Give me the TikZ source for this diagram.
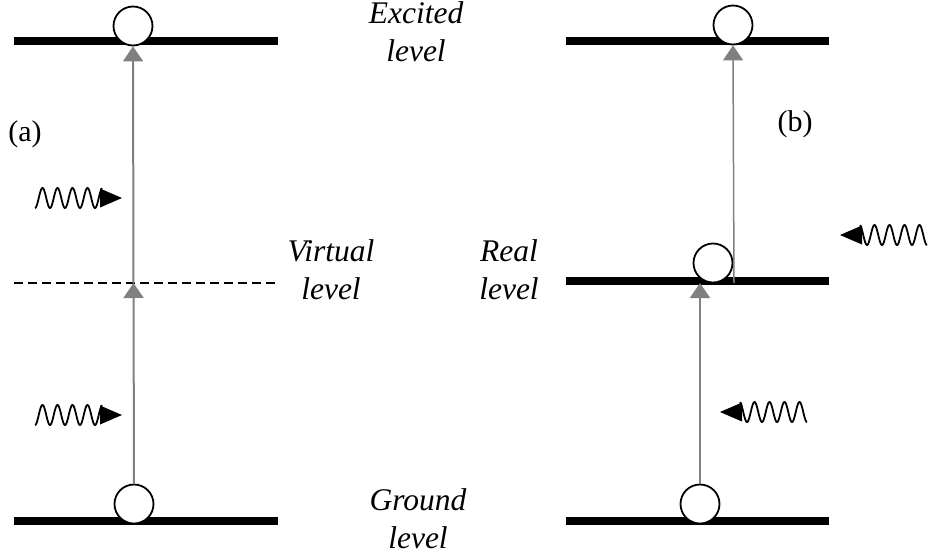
\documentclass[tikz,border=0pt]{standalone}
\usepackage{fontspec}
\setmainfont{Liberation Serif}
\usetikzlibrary{arrows.meta}
\definecolor{arrowgray}{RGB}{128,128,128}
\tikzset{
  levelline/.style={line width=7.5pt, black},
  virtline/.style={line width=1.6pt, black, dash pattern=on 9pt off 5pt},
  electron/.style={circle, draw=black, fill=white, line width=1.8pt, minimum size=39pt, inner sep=0pt},
  transition/.style={draw=arrowgray, line width=2pt, -{Triangle[length=15pt,width=20pt]}},
  levellabel/.style={font=\fontsize{31.5}{38}\selectfont\itshape, align=center, inner sep=0pt},
  panellabel/.style={font=\fontsize{30}{36}\selectfont, inner sep=0pt},
  photonright/.pic={
    \draw[line width=1.8pt, black] plot[domain=0:67, samples=120, smooth] (\x,{10*cos(\x/15*360)});
    \fill[black] (65,-9.5) -- (87,0) -- (65,9.5) -- cycle;
  }
}
\begin{document}
\begin{tikzpicture}[x=1pt, y=-1pt]
\useasboundingbox (0,0) rectangle (930,558);
% ---------- panel (a) ----------
\coordinate (aTL) at (14,41);  \coordinate (aTR) at (278,41);
\coordinate (aVL) at (14,283); \coordinate (aVR) at (278,283);
\coordinate (aGL) at (14,521); \coordinate (aGR) at (278,521);
\draw[levelline] (aTL) -- (aTR);
\draw[virtline] (aVL) -- (aVR);
\draw[levelline] (aGL) -- (aGR);
\node[electron] (aTop) at (133,26) {};
\node[electron] (aBot) at (134,504) {};
\coordinate (aVirt) at (133.5,283);
\draw[transition] (aBot.north) -- (aVirt);
\draw[transition] (aVirt) -- (aTop.south);
\pic at (35,198) {photonright};
\pic at (35,415) {photonright};
\node[panellabel] (la) at (25,134) {(a)};
% ---------- panel (b) ----------
\coordinate (bTL) at (566,41);  \coordinate (bTR) at (829,41);
\coordinate (bRL) at (566,281); \coordinate (bRR) at (829,281);
\coordinate (bGL) at (566,521); \coordinate (bGR) at (829,521);
\draw[levelline] (bTL) -- (bTR);
\draw[levelline] (bRL) -- (bRR);
\draw[levelline] (bGL) -- (bGR);
\node[electron] (bTop) at (733,25) {};
\node[electron] (bMid) at (713,263) {};
\node[electron] (bBot) at (700,504) {};
\coordinate (bReal) at (700,283);
\coordinate (bStart) at (734,283);
\draw[transition] (bBot.north) -- (bReal);
\draw[transition, line width=1.5pt] (bStart) -- (bTop.south);
\pic[xscale=-1] at (927,235) {photonright};
\pic[xscale=-1] at (807,412) {photonright};
\node[panellabel] (lb) at (795,124) {(b)};
% ---------- level labels ----------
\node[levellabel] (exc) at (416,32) {Excited\\level};
\node[levellabel] (vir) at (331,270) {Virtual\\level};
\node[levellabel] (rea) at (509,270) {Real\\level};
\node[levellabel] (gro) at (418,519) {Ground\\level};
\end{tikzpicture}
\end{document}
